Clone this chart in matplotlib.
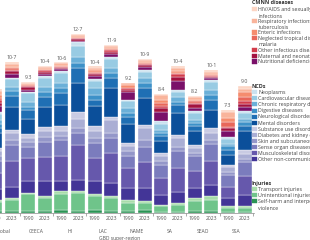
import matplotlib
matplotlib.use("Agg")
import matplotlib.pyplot as plt
from matplotlib.patches import Rectangle
import numpy as np

plt.rcParams["font.family"] = ["Open Sans", "DejaVu Sans"]

# regions and years (two bars per region)
regions = ["Global", "CEECA", "HI", "LAC", "NAME", "SA", "SEAO", "SSA"]
years = ["1990", "2023"]
total_labels = ["8·8", "10·7", "9·3", "10·4", "10·6", "12·7", "10·4", "11·9",
                "9·2", "10·9", "8·4", "10·4", "8·2", "10·1", "7·3", "9·0"]

# CMNN diseases
hiv = [0.08, 0.15, 0.05, 0.10, 0.08, 0.10, 0.10, 0.12, 0.05, 0.10, 0.05, 0.10, 0.05, 0.10, 0.15, 0.24]
resp_inf = [0.30, 0.20, 0.12, 0.12, 0.15, 0.12, 0.17, 0.12, 0.15, 0.12, 0.35, 0.22, 0.20, 0.15, 0.40, 0.24]
enteric = [0.20, 0.10, 0.06, 0.08, 0.05, 0.07, 0.12, 0.10, 0.15, 0.10, 0.25, 0.18, 0.12, 0.08, 0.35, 0.35]
ntd = [0.20, 0.12, 0.02, 0.03, 0.02, 0.02, 0.05, 0.05, 0.05, 0.04, 0.20, 0.08, 0.10, 0.05, 0.30, 0.24]
other_inf = [0.15, 0.10, 0.08, 0.10, 0.10, 0.07, 0.10, 0.10, 0.10, 0.08, 0.15, 0.15, 0.10, 0.10, 0.12, 0.24]
maternal = [0.22, 0.20, 0.25, 0.12, 0.08, 0.08, 0.15, 0.15, 0.20, 0.13, 0.25, 0.30, 0.25, 0.10, 0.15, 0.20]
nutrition = [0.45, 0.25, 0.10, 0.20, 0.12, 0.12, 0.20, 0.20, 0.50, 0.25, 0.70, 0.65, 0.25, 0.12, 0.45, 0.30]

# NCDs
neoplasms = [0.12, 0.10, 0.12, 0.14, 0.14, 0.24, 0.14, 0.17, 0.10, 0.12, 0.16, 0.12, 0.12, 0.12, 0.12, 0.12]
cardio = [0.45, 0.60, 0.59, 0.64, 0.75, 0.78, 0.52, 0.62, 0.50, 0.47, 0.42, 0.35, 0.47, 0.59, 0.35, 0.42]
chronic_resp = [0.30, 0.25, 0.35, 0.35, 0.35, 0.47, 0.47, 0.37, 0.35, 0.35, 0.24, 0.35, 0.24, 0.35, 0.19, 0.24]
digestive = [0.25, 0.35, 0.24, 0.35, 0.30, 0.35, 0.35, 0.37, 0.25, 0.35, 0.24, 0.24, 0.24, 0.35, 0.24, 0.24]
neuro = [0.38, 0.80, 0.64, 0.70, 0.86, 1.06, 0.47, 0.72, 0.55, 0.70, 0.35, 0.59, 0.35, 0.70, 0.40, 0.35]
mental = [1.05, 1.60, 1.08, 1.41, 1.53, 2.00, 1.41, 2.00, 1.30, 1.88, 0.82, 1.53, 0.94, 1.30, 0.70, 1.40]
substance = [0.24, 0.23, 0.28, 0.30, 0.30, 0.52, 0.30, 0.24, 0.24, 0.24, 0.19, 0.24, 0.24, 0.35, 0.16, 0.24]
diabetes = [0.35, 0.47, 0.28, 0.40, 0.40, 0.66, 0.52, 0.94, 0.35, 0.82, 0.35, 0.59, 0.35, 0.47, 0.30, 0.35]
skin = [0.30, 0.35, 0.30, 0.35, 0.24, 0.35, 0.35, 0.35, 0.35, 0.47, 0.28, 0.30, 0.24, 0.30, 0.24, 0.24]
sense = [0.90, 1.18, 0.82, 1.06, 1.18, 0.82, 1.06, 1.06, 0.82, 1.06, 0.94, 1.22, 1.06, 1.22, 0.82, 1.00]
msk = [1.10, 1.84, 1.65, 1.72, 1.77, 2.47, 1.65, 2.10, 1.45, 1.88, 1.18, 1.65, 1.18, 1.65, 0.80, 1.30]
other_ncd = [0.75, 0.75, 0.82, 1.06, 0.70, 0.82, 0.90, 0.94, 0.82, 0.94, 0.70, 0.82, 0.70, 0.82, 0.59, 0.82]

# injuries
transport = [0.15, 0.15, 0.10, 0.12, 0.20, 0.15, 0.15, 0.15, 0.20, 0.10, 0.12, 0.12, 0.20, 0.25, 0.10, 0.10]
unintentional = [0.65, 0.76, 1.15, 0.90, 1.15, 1.23, 1.00, 0.88, 0.60, 0.50, 0.40, 0.48, 0.72, 0.78, 0.30, 0.30]
self_harm = [0.15, 0.15, 0.16, 0.16, 0.18, 0.15, 0.19, 0.15, 0.14, 0.22, 0.08, 0.10, 0.14, 0.15, 0.07, 0.07]

# legend groups, top to bottom (same order as top to bottom in the stack)
cmnn = [
    ("HIV/AIDS and sexually transmitted\ninfections", hiv, "#fcd5c4"),
    ("Respiratory infections and\ntuberculosis", resp_inf, "#f9b49b"),
    ("Enteric infections", enteric, "#f58c6e"),
    ("Neglected tropical diseases and\nmalaria", ntd, "#e8675a"),
    ("Other infectious diseases", other_inf, "#d23c4b"),
    ("Maternal and neonatal disorders", maternal, "#a3123f"),
    ("Nutritional deficiencies", nutrition, "#7a1069"),
]
ncds = [
    ("Neoplasms", neoplasms, "#c9e1ef"),
    ("Cardiovascular diseases", cardio, "#98cbe3"),
    ("Chronic respiratory diseases", chronic_resp, "#6bb0d8"),
    ("Digestive diseases", digestive, "#3d91c8"),
    ("Neurological disorders", neuro, "#1f6fb4"),
    ("Mental disorders", mental, "#0b4f9a"),
    ("Substance use disorders", substance, "#c9cbe3"),
    ("Diabetes and kidney diseases", diabetes, "#aaaed4"),
    ("Skin and subcutaneous diseases", skin, "#9497c9"),
    ("Sense organ diseases", sense, "#7b7cbd"),
    ("Musculoskeletal disorders", msk, "#6658ac"),
    ("Other non-communicable diseases", other_ncd, "#433597"),
]
injuries = [
    ("Transport injuries", transport, "#a8dcaa"),
    ("Unintentional injuries", unintentional, "#6fc48a"),
    ("Self-harm and interpersonal\nviolence", self_harm, "#2b9455"),
]

fig = plt.figure(figsize=(3.1, 2.4), dpi=100)
ax = fig.add_axes([-0.047, 0.1125, 0.8665, 0.884])

x = np.arange(len(regions) * 2)
stack = (cmnn + ncds + injuries)[::-1]   # draw from the bottom up
bottom = np.zeros(len(x))
for name, vals, col in stack:
    ax.bar(x, vals, bottom=bottom, width=0.84, color=col,
           edgecolor="white", linewidth=0.25)
    bottom += np.array(vals)

for xi, top, lab in zip(x, bottom, total_labels):
    ax.text(xi, top + 0.12, lab, ha="center", va="bottom",
            fontsize=3.8, color="#555555")

ax.set_xlim(-0.57, 15.57)
ax.set_ylim(0, 15)
for s in ["top", "right", "left"]:
    ax.spines[s].set_visible(False)
ax.spines["bottom"].set_color("#8a8a8a")
ax.spines["bottom"].set_linewidth(0.5)
ax.set_yticks([])

# tick marks between regions, year labels under bars
ax.set_xticks(np.arange(-0.5, 16, 2))
ax.set_xticklabels([])
ax.tick_params(axis="x", which="major", length=2, width=0.5, color="#8a8a8a")
ax.set_xticks(x, minor=True)
ax.set_xticklabels(years * len(regions), minor=True)
ax.tick_params(axis="x", which="minor", length=0, pad=2.5,
               labelsize=3.6, labelcolor="#555555")

trans = ax.get_xaxis_transform()
for i, reg in enumerate(regions):
    ax.text(2 * i + 0.5, -0.075, reg, transform=trans, ha="center", va="top",
            fontsize=3.6, color="#555555")
ax.text(7.5, -0.11, "GBD super-region", transform=trans, ha="center", va="top",
        fontsize=3.6, color="#555555")

# legend drawn by hand in figure pixels (from top)
W, H = 310.0, 240.0


def legend_block(title, entries, y0, step):
    fig.text(252 / W, 1 - y0 / H, title, fontsize=3.9, fontweight="bold",
             color="#333333", va="center", ha="left")
    y = y0 + 6.3
    for name, vals, col in entries:
        fig.add_artist(Rectangle((252 / W, 1 - (y + 2) / H), 4.5 / W, 4 / H,
                                 transform=fig.transFigure, facecolor=col,
                                 edgecolor=col, linewidth=0.3))
        fig.text(258.5 / W, 1 - (y + 0.3) / H, name, fontsize=3.8, color="#444444",
                 va="top" if "\n" in name else "center", ha="left",
                 linespacing=1.35)
        if "\n" in name:
            fig.texts[-1].set_y(1 - (y - 2.2) / H)
            y += 2 * step
        else:
            y += step


legend_block("CMNN diseases", cmnn, 3, 5.8)
legend_block("NCDs", ncds, 86, 6.1)
legend_block("Injuries", injuries, 183, 6.0)

fig.savefig("out.png", dpi=100)
